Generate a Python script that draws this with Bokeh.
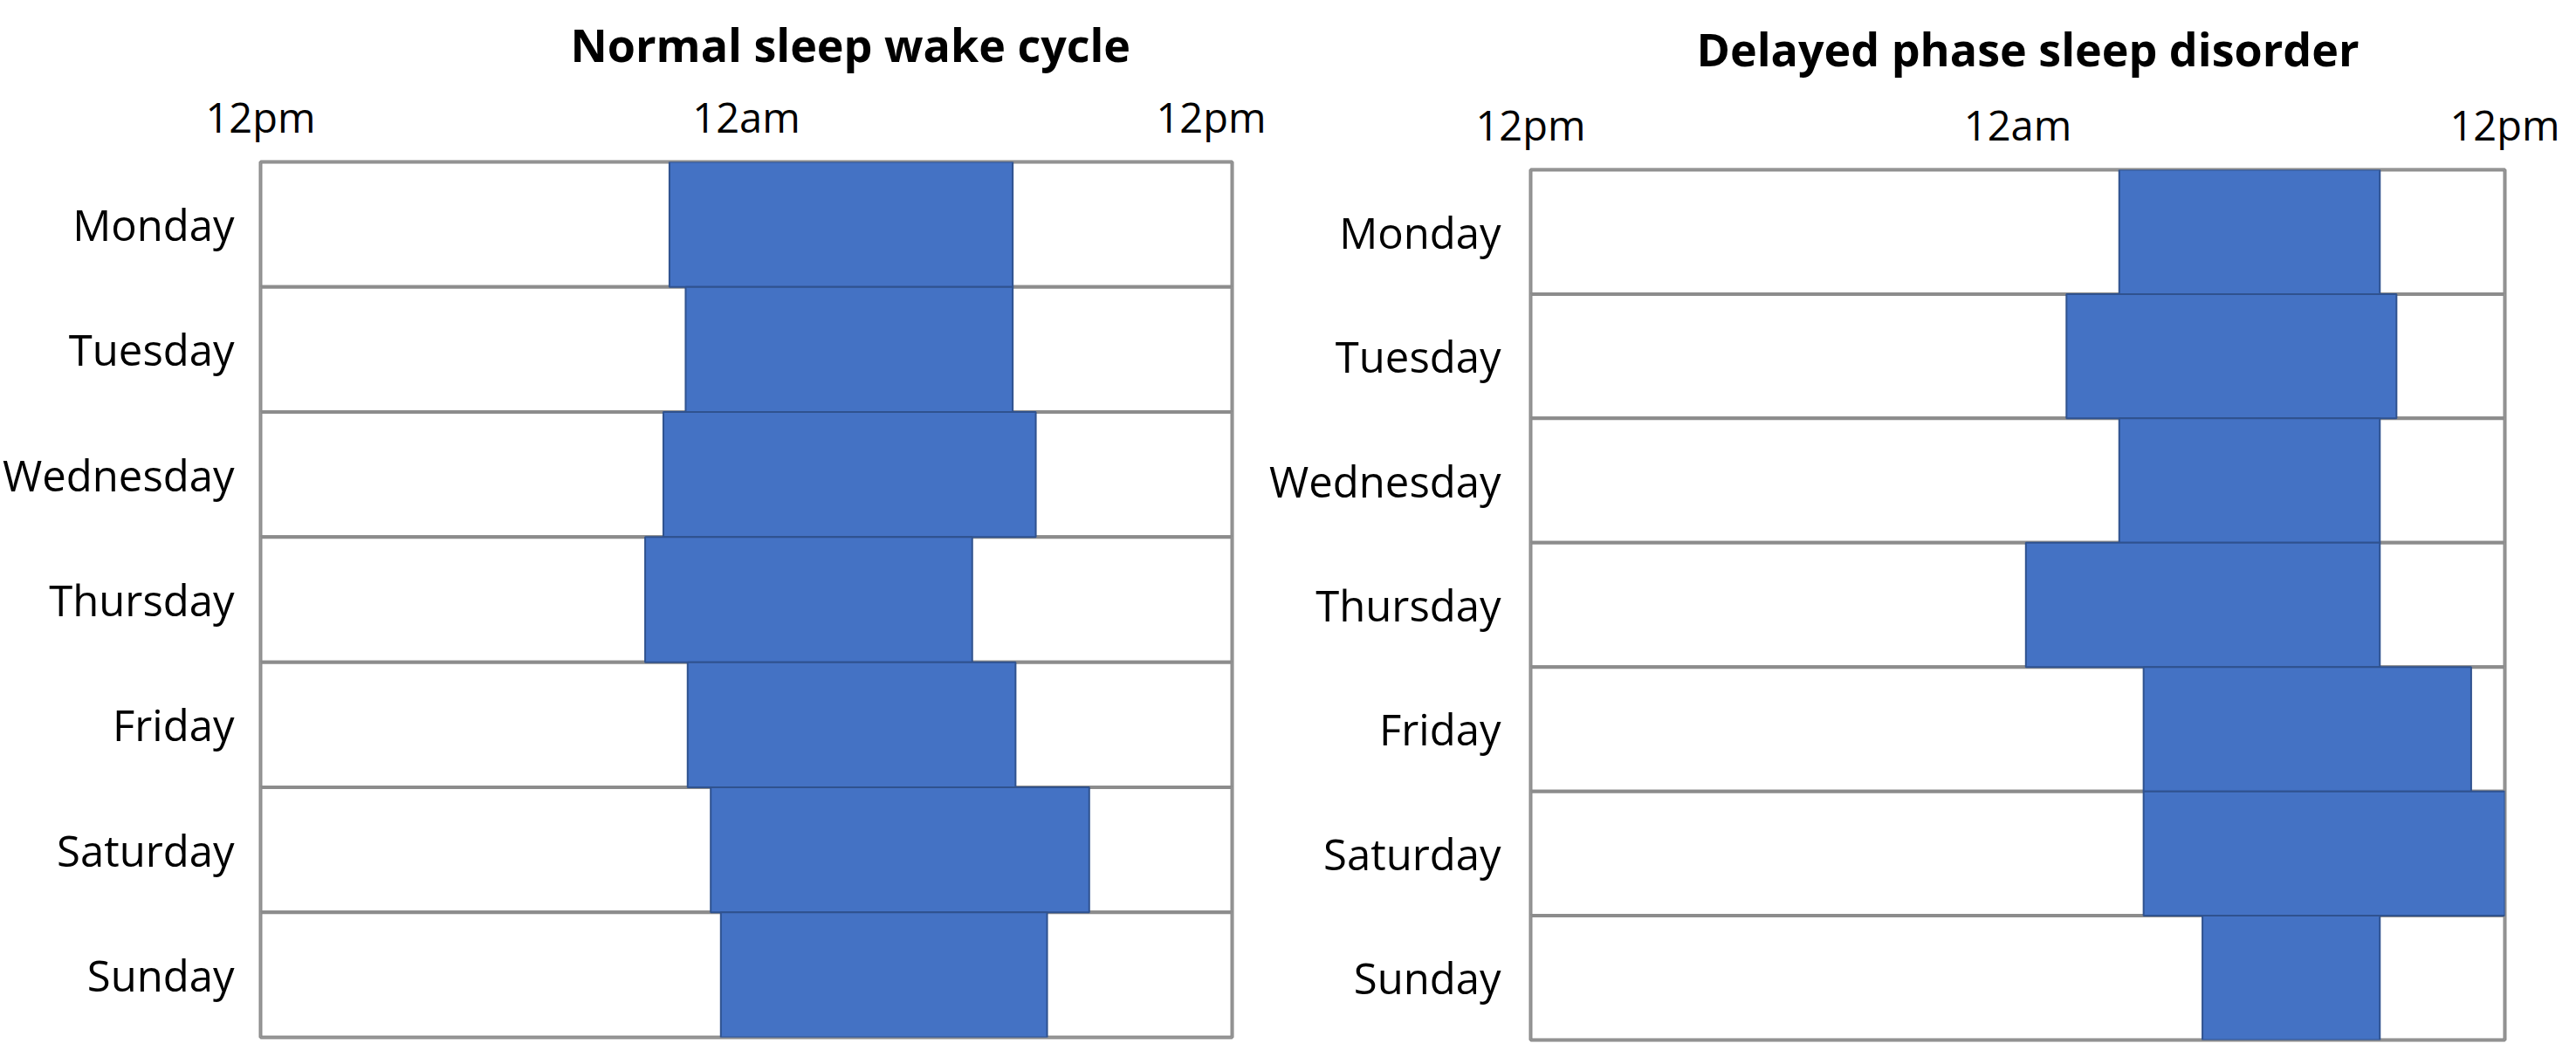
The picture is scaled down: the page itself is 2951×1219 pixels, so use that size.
from bokeh.plotting import figure
from bokeh.layouts import row, column
from bokeh.models import Range1d, FactorRange, FixedTicker, Title
from bokeh.embed import file_html
from bokeh.resources import INLINE

days = ["Monday", "Tuesday", "Wednesday", "Thursday", "Friday", "Saturday", "Sunday"]
# hours after 12pm (0 = 12pm, 12 = 12am, 24 = next 12pm)
normal_start = [10.1, 10.5, 9.95, 9.5, 10.55, 11.12, 11.37]
normal_end = [18.58, 18.58, 19.15, 17.58, 18.65, 20.47, 19.43]
delayed_start = [14.5, 13.2, 14.5, 12.2, 15.1, 15.1, 16.55]
delayed_end = [20.92, 21.33, 20.92, 20.92, 23.17, 24.0, 20.92]
tick_values = [0, 12, 24]
tick_labels = ["12pm", "12am", "12pm"]
titles = ["Normal sleep wake cycle", "Delayed phase sleep disorder"]

FONT = "Open Sans"
BLUE = "#4472C4"
BLUE_EDGE = "#2F528F"
GREY = "#8c8c8c"


def make_panel(title, starts, ends, width, height, left, right, top, bottom,
               title_offset, title_standoff, label_standoff):
    p = figure(width=width, height=height, output_backend="svg", toolbar_location=None,
               x_range=Range1d(0, 24), y_range=FactorRange(factors=list(reversed(days))),
               x_axis_location="above", min_border_left=left, min_border_right=right,
               min_border_top=top, min_border_bottom=bottom, title=None)
    p.add_layout(Title(text=title, text_font=FONT, text_font_size="52px", text_font_style="bold",
                       text_color="black", align="left", offset=title_offset,
                       standoff=title_standoff), "above")
    p.xgrid.visible = False
    p.ygrid.visible = False
    p.outline_line_color = GREY
    p.outline_line_width = 4
    p.background_fill_color = "white"
    p.border_fill_color = "white"

    p.hbar(y=days, left=0, right=24, height=1, fill_color="white",
           line_color=GREY, line_width=4)
    p.hbar(y=days, left=starts, right=ends, height=1, fill_color=BLUE,
           line_color=BLUE_EDGE, line_width=2)

    xa = p.xaxis[0]
    xa.ticker = FixedTicker(ticks=tick_values)
    xa.major_label_overrides = {v: t for v, t in zip(tick_values, tick_labels)}
    xa.axis_line_color = None
    xa.major_tick_line_color = None
    xa.minor_tick_line_color = None
    xa.major_label_text_font = FONT
    xa.major_label_text_font_size = "47px"
    xa.major_label_text_color = "black"
    xa.major_label_standoff = 14

    ya = p.yaxis[0]
    ya.axis_line_color = None
    ya.major_tick_line_color = None
    ya.major_label_text_font = FONT
    ya.major_label_text_font_size = "49px"
    ya.major_label_text_color = "black"
    ya.major_label_standoff = label_standoff
    return p


# left panel: frame x 292..1411, y 185..1188
p1 = make_panel(titles[0], normal_start, normal_end, 1450, 1200, 292, 39, 185, 12,
                355, 25, 24)
# right panel: frame x 1753..2869, y 194..1191
p2 = make_panel(titles[1], delayed_start, delayed_end, 1493, 1200, 303, 74, 194, 9,
                190, 33, 28)

layout = row(p1, column(p2))
open("out.html", "w").write(file_html(layout, INLINE))
